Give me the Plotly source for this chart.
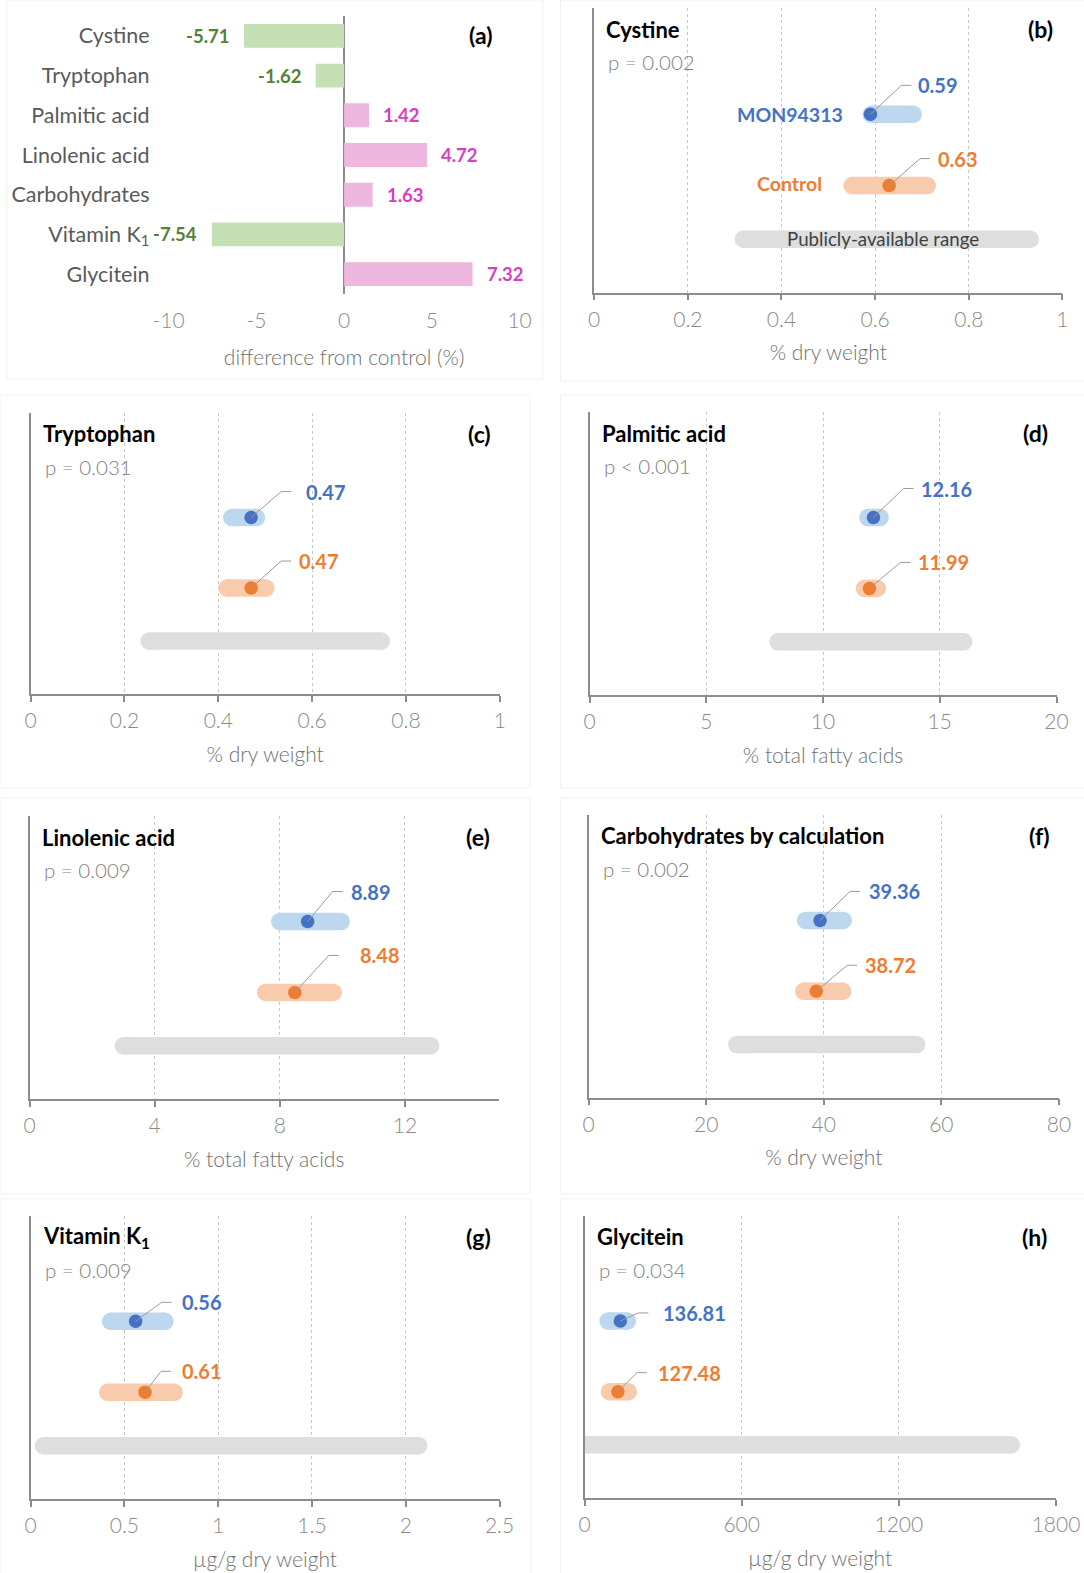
import plotly.graph_objects as go

W, H = 1084, 1573

# ---------------- data ----------------
diff_categories = ["Cystine", "Tryptophan", "Palmitic acid", "Linolenic acid",
                   "Carbohydrates", "Vitamin K<sub>1</sub>", "Glycitein"]
diff_values = [-5.71, -1.62, 1.42, 4.72, 1.63, -7.54, 7.32]
diff_tickvals = [-10, -5, 0, 5, 10]
diff_ticktext = ["-10", "-5", "0", "5", "10"]

panel_letters = ["(b)", "(c)", "(d)", "(e)", "(f)", "(g)", "(h)"]
analytes = ["Cystine", "Tryptophan", "Palmitic acid", "Linolenic acid",
            "Carbohydrates by calculation", "Vitamin K<sub>1</sub>", "Glycitein"]
p_values = ["p = 0.002", "p = 0.031", "p < 0.001", "p = 0.009",
            "p = 0.002", "p = 0.009", "p = 0.034"]
units = ["% dry weight", "% dry weight", "% total fatty acids", "% total fatty acids",
         "% dry weight", "µg/g dry weight", "µg/g dry weight"]

mon_mean = [0.59, 0.47, 12.16, 8.89, 39.36, 0.56, 136.81]
mon_low = [0.573, 0.41, 11.55, 7.72, 35.4, 0.38, 56.5]
mon_high = [0.70, 0.50, 12.82, 10.24, 44.8, 0.763, 197.0]
ctl_mean = [0.63, 0.47, 11.99, 8.48, 38.72, 0.61, 127.48]
ctl_low = [0.532, 0.40, 11.4, 7.27, 35.1, 0.365, 61.9]
ctl_high = [0.73, 0.52, 12.7, 9.99, 44.7, 0.812, 200.8]
pub_low = [0.30, 0.234, 7.7, 2.72, 23.7, 0.022, -35.0]
pub_high = [0.95, 0.766, 16.4, 13.1, 57.3, 2.116, 1663.0]

axis_max = [1, 1, 20, 15, 80, 2.5, 1800]
axis_dtick = [0.2, 0.2, 5, 4, 20, 0.5, 600]

series_names = ["MON94313", "Control"]
range_label = "Publicly-available range"

# ---------------- styles / layout ----------------
FONT = "Lato, 'Open Sans', sans-serif"
BLUE = "#4472C4"
BLUE_L = "#BDD7EE"
ORANGE = "#ED7D31"
ORANGE_L = "#F8CBAD"
GRAY_BAR = "#DEDEDE"
AXIS_C = "#8C8C8C"
GRID_C = "#C8C8C8"
TICK_C = "#8A8A8A"
TITLE_C = "#707070"
GREEN_BAR = "#C5E0B4"
GREEN_TXT = "#548235"
PINK_BAR = "#EDB7E0"
PINK_TXT = "#DA3EC0"

TICK_SIZE = 21
TITLE_SIZE = 21
HEAD_SIZE = 22
LETTER_SIZE = 23
VAL_SIZE = 20

# pixel boxes of the plot areas: (left, right, top, bottom)
A_BOX = (168.6, 519.6, 16, 294)
BOXES = [
    (594.2, 1062.4, 8.3, 292.7),
    (30.6, 499.8, 412.7, 694.0),
    (589.5, 1056.5, 412.0, 695.0),
    (29.5, 498.8, 816.0, 1099.0),
    (588.7, 1058.9, 815.0, 1097.7),
    (30.6, 499.5, 1215.7, 1499.0),
    (584.5, 1056.0, 1215.7, 1498.0),
]
# faint panel frames
FRAMES = [(7, 543, 0, 379), (560.5, 1090, 0, 381), (0, 530, 395, 788), (560.5, 1090, 395, 788),
          (0, 530, 798, 1194), (560.5, 1090, 798, 1194), (0, 531, 1199, 1590), (560.5, 1090, 1199, 1590)]

YMAX = 5.31
ROW_Y = [3.33, 2.0, 1.0]  # MON94313, Control, public range
BAR_PX = 17.5
DOT_PX = 13.5

# label offsets in pixels (dx right, dy up, elbow dx)
mon_lab = [(47, 29, 31), (54, 26, 30), (47, 29, 30), (42, 30, 25), (48, 29, 30), (45, 19, 26), (42, 8, 18)]
ctl_lab = [(48, 27, 31), (47, 27, 30), (48, 26, 31), (64, 37, 34), (48, 26, 31), (36, 21, 16), (39, 19, 19)]
SEG = 10


def dx(x0, x1):
    return [x0 / W, x1 / W]


def dy(top, bot):
    return [1 - bot / H, 1 - top / H]


def light(size, color, weight=300):
    return dict(family=FONT, size=size, color=color, weight=weight)


fig = go.Figure()
annotations = []
shapes = []

for (l, r, t, b) in FRAMES:
    shapes.append(dict(type="rect", xref="paper", yref="paper",
                       x0=l / W, x1=r / W, y0=1 - b / H, y1=1 - t / H,
                       line=dict(color="#F1F1F1", width=1), fillcolor="rgba(0,0,0,0)", layer="below"))

# ---------------- panel (a) ----------------
fig.add_trace(go.Bar(
    x=diff_values, y=diff_categories, orientation="h", width=0.6,
    marker=dict(color=[GREEN_BAR if v < 0 else PINK_BAR for v in diff_values], line=dict(width=0)),
    xaxis="x", yaxis="y", showlegend=False, hoverinfo="skip"))

layout_axes = {}
layout_axes["xaxis"] = dict(
    domain=dx(A_BOX[0], A_BOX[1]), anchor="y", range=[-10, 10], automargin=False,
    tickvals=diff_tickvals, ticktext=diff_ticktext, showgrid=False, showline=False,
    zeroline=True, zerolinecolor=AXIS_C, zerolinewidth=1.5, ticks="",
    ticklabelstandoff=12, tickfont=light(TICK_SIZE, TICK_C),
    title=dict(text="difference from control (%)", font=light(TITLE_SIZE, TITLE_C), standoff=19),
    fixedrange=True)
layout_axes["yaxis"] = dict(
    domain=dy(A_BOX[2], A_BOX[3]), anchor="x", categoryorder="array", categoryarray=diff_categories,
    autorange="reversed", showgrid=False, showline=False, zeroline=False, ticks="", automargin=False,
    ticklabelstandoff=18, tickfont=light(21.5, "#5A5A5A", 400), fixedrange=True)

for v, c in zip(diff_values, diff_categories):
    neg = v < 0
    annotations.append(dict(
        x=v, y=c, xref="x", yref="y", text=f"<b>{v:.2f}</b>", showarrow=False,
        xanchor="right" if neg else "left", xshift=-13 if neg else 12, yanchor="middle",
        font=dict(family=FONT, size=18.5, color=GREEN_TXT if neg else PINK_TXT)))
annotations.append(dict(x=1, y=1, xref="x domain", yref="y domain", text="<b>(a)</b>", showarrow=False,
                        xanchor="right", yanchor="middle", xshift=-26, yshift=-19,
                        font=dict(family=FONT, size=LETTER_SIZE, color="#000000")))

# ---------------- panels (b)-(h) ----------------
for i in range(7):
    n = i + 2
    xa, ya = f"x{n}", f"y{n}"
    l, r, t, b = BOXES[i]
    ux = (r - l) / axis_max[i]
    uy = (b - t) / YMAX
    rad = BAR_PX / 2 / ux

    layout_axes[f"xaxis{n}"] = dict(
        domain=dx(l, r), anchor=ya, range=[0, axis_max[i]], dtick=axis_dtick[i], tick0=0,
        showline=True, linecolor=AXIS_C, linewidth=1.5, ticks="outside", ticklen=6,
        tickcolor=AXIS_C, tickwidth=1.5, showgrid=True, gridcolor=GRID_C, griddash="dot",
        gridwidth=1, zeroline=False, ticklabelstandoff=1, automargin=False,
        tickfont=light(TICK_SIZE, TICK_C),
        title=dict(text=units[i], font=light(TITLE_SIZE, TITLE_C), standoff=16),
        fixedrange=True)
    layout_axes[f"yaxis{n}"] = dict(
        domain=dy(t, b), anchor=xa, range=[0, YMAX], showline=True, linecolor=AXIS_C,
        linewidth=1.5, showticklabels=False, ticks="", showgrid=False, zeroline=False,
        automargin=False, fixedrange=True)

    groups = [
        (mon_low[i], mon_high[i], mon_mean[i], ROW_Y[0], BLUE_L, BLUE, mon_lab[i]),
        (ctl_low[i], ctl_high[i], ctl_mean[i], ROW_Y[1], ORANGE_L, ORANGE, ctl_lab[i]),
    ]
    fig.add_trace(go.Scatter(
        x=[pub_low[i] + rad, pub_high[i] - rad], y=[ROW_Y[2], ROW_Y[2]], mode="lines+markers",
        line=dict(color=GRAY_BAR, width=BAR_PX), marker=dict(color=GRAY_BAR, size=BAR_PX, line=dict(width=0)),
        xaxis=xa, yaxis=ya, showlegend=False, hoverinfo="skip"))
    for lo, hi, mean, yy, lc, strong, (ldx, lup, edx) in groups:
        fig.add_trace(go.Scatter(
            x=[lo + rad, hi - rad], y=[yy, yy], mode="lines+markers",
            line=dict(color=lc, width=BAR_PX), marker=dict(color=lc, size=BAR_PX, line=dict(width=0)),
            xaxis=xa, yaxis=ya, showlegend=False, hoverinfo="skip"))
        fig.add_trace(go.Scatter(
            x=[mean], y=[yy], mode="markers", marker=dict(color=strong, size=DOT_PX, line=dict(width=0)),
            xaxis=xa, yaxis=ya, showlegend=False, hoverinfo="skip"))
        ey = yy + lup / uy
        fig.add_trace(go.Scatter(
            x=[mean, mean + edx / ux, mean + (edx + SEG) / ux], y=[yy, ey, ey], mode="lines",
            line=dict(color="#9A9A9A", width=1), xaxis=xa, yaxis=ya, showlegend=False, hoverinfo="skip"))
        annotations.append(dict(
            x=mean, y=yy, xref=xa, yref=ya, text=f"<b>{mean:.2f}</b>", showarrow=False,
            xanchor="left", yanchor="middle", xshift=ldx - 1, yshift=lup,
            font=dict(family=FONT, size=VAL_SIZE, color=strong)))

    annotations.append(dict(x=0, y=1, xref=f"{xa} domain", yref=f"{ya} domain", text=f"<b>{analytes[i]}</b>",
                            showarrow=False, xanchor="left", yanchor="middle", xshift=10, yshift=-21,
                            font=dict(family=FONT, size=HEAD_SIZE, color="#000000")))
    annotations.append(dict(x=0, y=1, xref=f"{xa} domain", yref=f"{ya} domain", text=p_values[i],
                            showarrow=False, xanchor="left", yanchor="middle", xshift=12, yshift=-54,
                            font=light(20.5, "#808080")))
    annotations.append(dict(x=1, y=1, xref=f"{xa} domain", yref=f"{ya} domain", text=f"<b>{panel_letters[i]}</b>",
                            showarrow=False, xanchor="right", yanchor="middle", xshift=-7, yshift=-21,
                            font=dict(family=FONT, size=LETTER_SIZE, color="#000000")))

    if i == 0:
        annotations.append(dict(x=mon_low[i], y=ROW_Y[0], xref=xa, yref=ya, text=f"<b>{series_names[0]}</b>",
                                showarrow=False, xanchor="right", yanchor="middle", xshift=-17,
                                font=dict(family=FONT, size=19.5, color=BLUE)))
        annotations.append(dict(x=ctl_low[i], y=ROW_Y[1], xref=xa, yref=ya, text=f"<b>{series_names[1]}</b>",
                                showarrow=False, xanchor="right", yanchor="middle", xshift=-19, yshift=2,
                                font=dict(family=FONT, size=19.5, color=ORANGE)))
        annotations.append(dict(x=(pub_low[i] + pub_high[i]) / 2, y=ROW_Y[2], xref=xa, yref=ya, text=range_label,
                                showarrow=False, xanchor="center", yanchor="middle", xshift=-4,
                                font=dict(family=FONT, size=18.7, color="#404040")))

fig.update_layout(
    width=W, height=H, margin=dict(l=0, r=0, t=0, b=0, autoexpand=False),
    paper_bgcolor="white", plot_bgcolor="white",
    showlegend=False, annotations=annotations, shapes=shapes,
    font=dict(family=FONT),
    **layout_axes)

fig.write_html("out.html", config={"displayModeBar": False},
               post_script="document.body.style.margin='0';document.body.style.overflow='hidden';")
